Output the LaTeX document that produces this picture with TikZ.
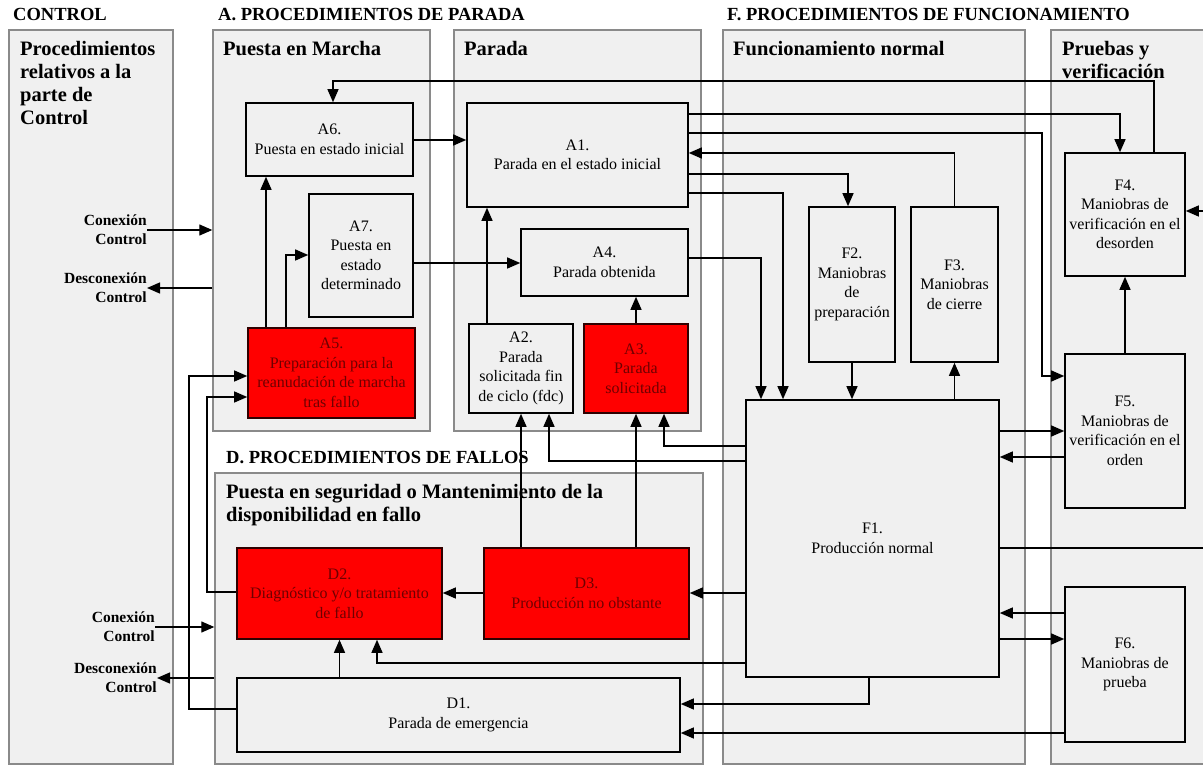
\documentclass[tikz,border=0pt]{standalone}
\usepackage{fontspec}
\setmainfont{Liberation Serif}
\usetikzlibrary{arrows.meta}
\definecolor{panelfill}{HTML}{F0F0F0}
\definecolor{panelline}{HTML}{8A8A8A}
\definecolor{failred}{HTML}{FF0000}
\definecolor{failtext}{HTML}{6E0000}
\definecolor{failline}{HTML}{300000}

\begin{document}
\begin{tikzpicture}[x=1pt,y=-1pt,
  panel/.style={draw=panelline, fill=panelfill, line width=1.4pt, inner sep=0pt},
  stage/.style={draw=black, fill=panelfill, line width=1.6pt, inner sep=2pt,
    align=center, font=\fontsize{16}{19.5}\selectfont},
  fault/.style={stage, fill=failred, text=failtext, draw=failline},
  grouptitle/.style={font=\bfseries\fontsize{18.5}{22}\selectfont, anchor=base west, inner sep=0pt},
  panelhead/.style={font=\bfseries\fontsize{20.5}{23}\selectfont, anchor=base west, inner sep=0pt, align=left},
  ctl/.style={font=\bfseries\fontsize{15.5}{19}\selectfont, align=right, inner sep=0pt},
  arr/.style={line width=1.3pt, line join=miter, -{Triangle[length=13pt,width=11pt]}}
]
\useasboundingbox (0,0) rectangle (1203,767);
\clip (0,0) rectangle (1203,767);

% group titles
\node[grouptitle] (tControl) at (13,21) {CONTROL};
\node[grouptitle] (tA) at (218,21) {A. PROCEDIMIENTOS DE PARADA};
\node[grouptitle] (tF) at (727,21) {F. PROCEDIMIENTOS DE FUNCIONAMIENTO};
\node[grouptitle] (tD) at (226,464) {D. PROCEDIMIENTOS DE FALLOS};

% panels
\node[panel, minimum width=164, minimum height=734] (pControl) at (91,397) {};
\node[panel, minimum width=217, minimum height=401] (pMarcha) at (321.5,230.5) {};
\node[panel, minimum width=247, minimum height=401] (pParada) at (577.5,230.5) {};
\node[panel, minimum width=302, minimum height=734] (pFunc) at (874,397) {};
\node[panel, minimum width=164, minimum height=734] (pPruebas) at (1133,397) {};
\node[panel, minimum width=488, minimum height=291] (pFallo) at (459,618.5) {};

% panel headings (multi-line ones are placed by their last baseline)
\node[panelhead] (hControl) at (20,125) {Procedimientos\\relativos a la\\parte de\\Control};
\node[panelhead] (hMarcha) at (223,56) {Puesta en Marcha};
\node[panelhead] (hParada) at (464,56) {Parada};
\node[panelhead] (hFunc) at (733,56) {Funcionamiento normal};
\node[panelhead] (hPruebas) at (1062,79) {Pruebas y\\verificación};
\node[panelhead] (hFallo) at (226,521) {Puesta en seguridad o Mantenimiento de la\\disponibilidad en fallo};

% stages
\node[stage, minimum width=167, minimum height=73] (A6) at (329.5,139.5) {A6.\\Puesta en estado inicial};
\node[stage, minimum width=104, minimum height=123] (A7) at (361,255.5) {A7.\\Puesta en\\estado\\determinado};
\node[fault, minimum width=167, minimum height=90] (A5) at (331.5,373) {A5.\\Preparación para la\\reanudación de marcha\\tras fallo};
\node[stage, minimum width=221, minimum height=104] (A1) at (577.5,155) {A1.\\Parada en el estado inicial};
\node[stage, minimum width=167, minimum height=67] (A4) at (604.5,262.5) {A4.\\Parada obtenida};
\node[stage, minimum width=104, minimum height=89] (A2) at (521,368.5) {A2.\\Parada\\solicitada fin\\de ciclo (fdc)};
\node[fault, minimum width=104, minimum height=89] (A3) at (636,368.5) {A3.\\Parada\\solicitada};
\node[stage, minimum width=86, minimum height=155] (F2) at (852,284.5) {F2.\\Maniobras\\de\\preparación};
\node[stage, minimum width=87, minimum height=155] (F3) at (954.5,284.5) {F3.\\Maniobras\\de cierre};
\node[stage, minimum width=253, minimum height=277] (F1) at (872.5,538.5) {F1.\\Producción normal};
\node[stage, minimum width=120, minimum height=123] (F4) at (1125,214.5) {F4.\\Maniobras de\\verificación en el\\desorden};
\node[stage, minimum width=120, minimum height=154] (F5) at (1125,431) {F5.\\Maniobras de\\verificación en el\\orden};
\node[stage, minimum width=120, minimum height=155] (F6) at (1125,664.5) {F6.\\Maniobras de\\prueba};
\node[fault, minimum width=205, minimum height=91] (D2) at (339.5,593.5) {D2.\\Diagnóstico y/o tratamiento\\de fallo};
\node[fault, minimum width=205, minimum height=91] (D3) at (586.5,593.5) {D3.\\Producción no obstante};
\node[stage, minimum width=443, minimum height=74] (D1) at (458.5,715) {D1.\\Parada de emergencia};

% control connections
\node[ctl, anchor=east] (cx1) at (147,230) {Conexión\\Control};
\node[ctl, anchor=east] (dx1) at (147,288) {Desconexión\\Control};
\node[ctl, anchor=east] (cx2) at (155,627) {Conexión\\Control};
\node[ctl, anchor=east] (dx2) at (157,678) {Desconexión\\Control};
\draw[arr] (cx1.east) -- (pMarcha.west |- cx1.east);
\draw[arr] (pMarcha.west |- dx1.east) -- (dx1.east);
\draw[arr] (cx2.east) -- (pFallo.west |- cx2.east);
\draw[arr] (pFallo.west |- dx2.east) -- (dx2.east);

% start-up and stop transitions
\draw[arr] (F4.north -| 1154,0) -- (1154,81) -- (333,81) -- (A6.north -| 333,0);
\draw[arr] (A6.east |- 0,140) -- (A1.west |- 0,140);
\draw[arr] (A1.east |- 0,114) -| (F4.north -| 1120,0);
\draw[arr] (A1.east |- 0,133) -- (1042,133) |- (F5.west |- 0,376);
\draw[arr] (F3.north) |- (A1.east |- 0,153);
\draw[arr] (A1.east |- 0,174) -| (F2.north -| 848,0);
\draw[arr] (A1.east |- 0,193) -| (F1.north -| 783,0);
\draw[arr] (A4.east |- 0,258) -| (F1.north -| 761,0);
\draw[arr] (A7.east |- 0,263) -- (A4.west |- 0,263);
\draw[arr] (A5.north -| 266,0) -- (A6.south -| 266,0);
\draw[arr] (A5.north -| 286,0) |- (A7.west |- 0,255);
\draw[arr] (A2.north -| 487,0) -- (A1.south -| 487,0);
\draw[arr] (A3.north) -- (A4.south -| A3.north);
\draw[arr] (F1.west |- 0,446) -| (A3.south -| 664,0);
\draw[arr] (F1.west |- 0,461) -| (A2.south -| 549,0);

% failure transitions
\draw[arr] (D3.north -| A2.south) -- (A2.south);
\draw[arr] (D3.north -| A3.south) -- (A3.south);
\draw[arr] (F1.west |- 0,593) -- (D3.east |- 0,593);
\draw[arr] (D3.west |- 0,593) -- (D2.east |- 0,593);
\draw[arr] (F1.west |- 0,663) -| (D2.south -| 377,0);
\draw[arr] (D1.north -| D2.south) -- (D2.south);
\draw[arr] (D2.west |- 0,592) -| (207,397) -- (A5.west |- 0,397);
\draw[arr] (D1.west |- 0,709) -| (189,376) -- (A5.west |- 0,376);
\draw[arr] (F1.south -| 869,0) |- (D1.east |- 0,704);
\draw[arr] (F6.west |- 0,733) -- (D1.east |- 0,733);

% operating transitions
\draw[arr] (F2.south) -- (F1.north -| F2.south);
\draw[arr] (F1.north -| F3.south) -- (F3.south);
\draw[arr] (F1.east |- 0,431) -- (F5.west |- 0,431);
\draw[arr] (F5.west |- 0,457) -- (F1.east |- 0,457);
\draw[arr] (F5.north) -- (F4.south);
\draw[arr] (F1.east |- 0,548) -- (1215,548) -- (1215,211) -- (F4.east |- 0,211);
\draw[arr] (F1.east |- 0,639) -- (F6.west |- 0,639);
\draw[arr] (F6.west |- 0,613) -- (F1.east |- 0,613);
\end{tikzpicture}
\end{document}
